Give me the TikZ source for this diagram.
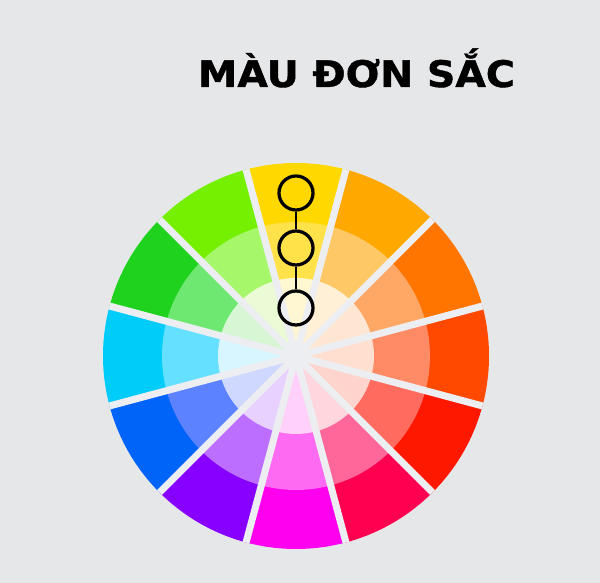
\documentclass[tikz,border=0pt]{standalone}
\usepackage{fontspec}
\newfontfamily\titlefont{DejaVu Sans}[FakeBold=1.2]
\usepackage{tikz}
\RequirePackage{xcolor}

\definecolor{bg}{HTML}{E6E7E9}
\definecolor{gap}{HTML}{EDEEF1}

\begin{document}
\begin{tikzpicture}[x = 0.025cm, y = 0.025cm]
	  \useasboundingbox (0,0) rectangle (600,583);
	  \fill[bg] (0,0) rectangle (600,583);
	  \draw (356.5,496) node[anchor=base, xscale=1.08, transform shape]
	    {\titlefont\bfseries\fontsize{26}{30}\selectfont MÀU ĐƠN SẮC};
	  \begin{scope}[shift={(296,227)}]
	    \foreach \a/\outr/\midr/\innr in {
	      90/FFD800/FFE24A/FFF7D2, 120/74F000/A6F76A/EAFBD6,
	      150/1ED21E/6EE870/D6F6D4, 180/00CCFA/66E0FF/D8F6FF,
	      210/0064F8/5C82FF/CFD8FF, 240/8800FF/BB6EFF/E8D0FF,
	      270/FF00EE/FF6AF2/FFD0FA, 300/FF0050/FF6699/FFD5DE,
	      330/FF1800/FF6B5E/FFD4CD, 0/FF4800/FF8A66/FFDFD0,
	      30/FF7500/FFA866/FFE6D2, 60/FFA800/FFC866/FFF0D6}
	    {\definecolor{ringout}{HTML}{\outr}\definecolor{ringmid}{HTML}{\midr}\definecolor{ringin}{HTML}{\innr}
	      \fill[ringout] (0,0) -- (\a-15:193) arc[start angle=\a-15, end angle=\a+15, radius=193] -- cycle;
	      \fill[ringmid] (0,0) -- (\a-15:134) arc[start angle=\a-15, end angle=\a+15, radius=134] -- cycle;
	      \fill[ringin] (0,0) -- (\a-15:78) arc[start angle=\a-15, end angle=\a+15, radius=78] -- cycle;
	    }
	    \begin{scope}
	      \clip (0,0) circle (193);
	      \foreach \a in {15,45,...,165}
	        \draw[gap, line width=5pt] (\a:200) -- (\a+180:200);
	    \end{scope}
	    % monochrome steps
	    \node[circle, draw, line width=2.3pt, minimum size=0.85cm] (dark) at (0,163) {};
	    \node[circle, draw, line width=2.3pt, minimum size=0.85cm] (mid) at (0,108) {};
	    \node[circle, draw, line width=2.3pt, minimum size=0.85cm] (light) at (0,48) {};
	    \draw[line width=1.1pt] (dark) -- (mid);
	    \draw[line width=1.1pt] (mid) -- (light);
	  \end{scope}
	\end{tikzpicture}
\end{document}
